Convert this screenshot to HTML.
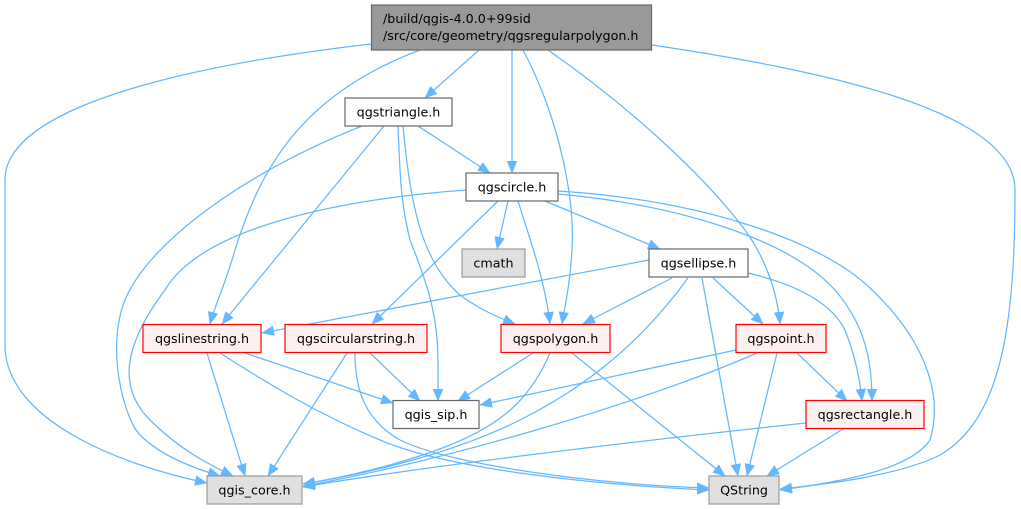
<!DOCTYPE html>
<html><head><meta charset="utf-8"><style>
html,body{margin:0;padding:0;background:#fff;}
svg{display:block;}
text{font-family:"DejaVu Sans","Liberation Sans",sans-serif;font-size:12.7px;fill:#000;}
.e{fill:none;stroke:#63b8ff;stroke-width:1.25;marker-end:url(#ah);}
.n{fill:#fff;stroke:#666;stroke-width:1.2;}
.g{fill:#e0e0e0;stroke:#999;stroke-width:1.2;}
.r{fill:#fff0f0;stroke:#ff0000;stroke-width:1.2;}
</style></head><body>
<svg width="1021" height="509" viewBox="0 0 1021 509" xmlns="http://www.w3.org/2000/svg">
<defs>
<marker id="ah" viewBox="0 0 12 10" refX="12" refY="5" markerWidth="12" markerHeight="10" markerUnits="userSpaceOnUse" orient="auto">
<path d="M0,0 L12,5 L0,10 Z" fill="#63b8ff" stroke="#63b8ff" stroke-width="0.5"/>
</marker>
</defs>
<!-- edges from top -->
<path class="e" d="M371,44 C250,58 5,95 5,180 L5,345 C5,420 120,465 207,483"/>
<path class="e" d="M420,50 C300,95 260,170 235,250 C225,285 215,305 210,324"/>
<path class="e" d="M479,50 L425,98"/>
<path class="e" d="M512,50 L512,173"/>
<path class="e" d="M523,50 C560,120 575,200 572,250 C570,285 565,305 562,324"/>
<path class="e" d="M548,50 C620,100 700,170 745,230 C770,265 778,300 780,324"/>
<path class="e" d="M652,45 C820,70 1015,110 1015,190 C1015,330 1000,420 940,455 C900,475 830,484 780,489"/>
<!-- triangle -->
<path class="e" d="M418,126 L490,173"/>
<path class="e" d="M362,126 C250,170 150,240 125,300 C105,350 125,420 140,435 C160,455 190,467 220,476"/>
<path class="e" d="M384,126 L222,324"/>
<path class="e" d="M398,126 C400,170 400,200 410,240 C430,290 438,320 438,360 L438,401"/>
<path class="e" d="M403,126 C410,200 420,260 460,295 C480,310 500,318 515,324"/>
<!-- circle -->
<path class="e" d="M508,201 L497,249"/>
<path class="e" d="M498,201 L372,324"/>
<path class="e" d="M518,201 C530,240 545,280 550,324"/>
<path class="e" d="M545,201 L660,249"/>
<path class="e" d="M558,194 C680,205 790,240 835,290 C865,325 872,360 872,401"/>
<path class="e" d="M558,191 C700,200 820,240 870,288 C920,335 945,390 930,440 C910,470 840,482 780,490"/>
<path class="e" d="M466,190 C330,200 200,230 165,290 C120,350 120,390 150,420 C180,450 210,465 233,476"/>
<!-- ellipse -->
<path class="e" d="M649,260 L262,333"/>
<path class="e" d="M672,278 L583,324"/>
<path class="e" d="M688,278 C650,330 600,380 520,420 C450,455 360,475 303,484"/>
<path class="e" d="M702,278 L738,476"/>
<path class="e" d="M713,278 L763,324"/>
<path class="e" d="M748,273 C790,283 830,300 845,330 C855,355 860,380 862,401"/>
<!-- linestring -->
<path class="e" d="M207,353 L245,476"/>
<path class="e" d="M245,353 L393,403"/>
<path class="e" d="M220,353 C270,385 320,415 380,440 C450,470 600,485 709,490"/>
<!-- circularstring -->
<path class="e" d="M347,353 L268,476"/>
<path class="e" d="M370,353 L420,401"/>
<path class="e" d="M355,353 C355,390 365,420 400,440 C450,465 600,485 709,488"/>
<!-- polygon -->
<path class="e" d="M533,353 L458,401"/>
<path class="e" d="M550,353 C530,400 500,425 450,445 C400,465 340,478 303,484"/>
<path class="e" d="M572,353 L725,476"/>
<!-- point -->
<path class="e" d="M736,350 L480,405"/>
<path class="e" d="M757,353 C650,400 450,460 303,486"/>
<path class="e" d="M777,353 L747,476"/>
<path class="e" d="M797,353 L847,401"/>
<!-- rectangle -->
<path class="e" d="M806,423 C600,445 400,470 303,487"/>
<path class="e" d="M843,429 L767,476"/>

<!-- nodes -->
<rect x="371.5" y="5" width="280" height="45" fill="#999" stroke="#666" stroke-width="1.2"/>
<text x="383" y="23">/build/qgis-4.0.0+99sid</text>
<text x="383" y="40">/src/core/geometry/qgsregularpolygon.h</text>

<rect class="n" x="345" y="98" width="107" height="28"/>
<text x="398.5" y="116.5" text-anchor="middle">qgstriangle.h</text>
<rect class="n" x="466" y="173" width="92" height="28"/>
<text x="512" y="191.5" text-anchor="middle">qgscircle.h</text>
<rect class="g" x="462" y="249" width="63" height="28"/>
<text x="493.5" y="267.5" text-anchor="middle">cmath</text>
<rect class="n" x="649" y="249" width="99" height="28"/>
<text x="698.5" y="267.5" text-anchor="middle">qgsellipse.h</text>
<rect class="r" x="143" y="324.5" width="118" height="28"/>
<text x="202" y="343" text-anchor="middle">qgslinestring.h</text>
<rect class="r" x="285" y="324.5" width="142" height="28"/>
<text x="356" y="343" text-anchor="middle">qgscircularstring.h</text>
<rect class="r" x="501" y="324.5" width="109" height="28"/>
<text x="555.5" y="343" text-anchor="middle">qgspolygon.h</text>
<rect class="r" x="736" y="324.5" width="90" height="28"/>
<text x="781" y="343" text-anchor="middle">qgspoint.h</text>
<rect class="n" x="393" y="400.5" width="86" height="28"/>
<text x="436" y="419" text-anchor="middle">qgis_sip.h</text>
<rect class="r" x="806" y="400.5" width="118" height="28"/>
<text x="865" y="419" text-anchor="middle">qgsrectangle.h</text>
<rect class="g" x="207" y="476" width="95" height="28"/>
<text x="254.5" y="494.5" text-anchor="middle">qgis_core.h</text>
<rect class="g" x="709" y="476" width="70" height="28"/>
<text x="744" y="494.5" text-anchor="middle">QString</text>
</svg>
</body></html>
